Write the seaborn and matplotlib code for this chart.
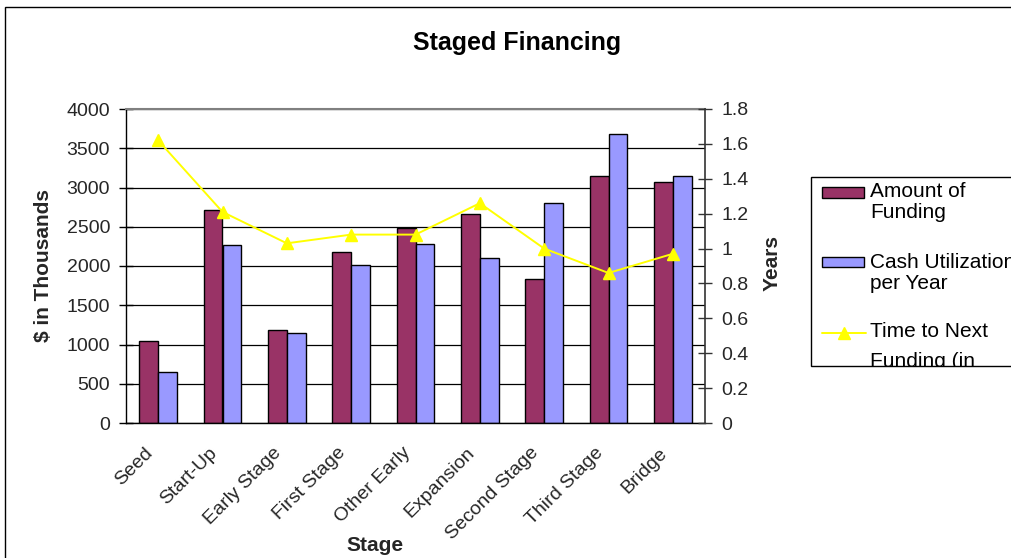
import numpy as np
import pandas as pd
import matplotlib
matplotlib.use("Agg")
import matplotlib.pyplot as plt
from matplotlib.patches import Rectangle
from matplotlib.lines import Line2D
from matplotlib.ticker import FixedLocator, FuncFormatter
import matplotlib.transforms as mtransforms
import seaborn as sns

# ---- data -------------------------------------------------------------
stages = ["Seed", "Start-Up", "Early Stage", "First Stage", "Other Early",
          "Expansion", "Second Stage", "Third Stage", "Bridge"]
amount_of_funding = [1050, 2710, 1190, 2180, 2485, 2665, 1835, 3150, 3070]
cash_utilization = [645, 2265, 1150, 2015, 2280, 2100, 2805, 3680, 3145]
time_to_next_funding = [1.62, 1.21, 1.03, 1.08, 1.08, 1.26, 1.00, 0.86, 0.97]

series_names = ["Amount of Funding", "Cash Utilization per Year"]
left_ticks = [0, 500, 1000, 1500, 2000, 2500, 3000, 3500, 4000]
right_ticks = [0, 0.2, 0.4, 0.6, 0.8, 1.0, 1.2, 1.4, 1.6, 1.8]

MAROON = "#993366"
PERIWINKLE = "#9999FF"
YELLOW = "#FFFF00"

# ---- figure setup -----------------------------------------------------
W, H = 1011, 558
sns.set_theme(style="white")
plt.rcParams["font.family"] = ["Liberation Sans", "DejaVu Sans"]

fig = plt.figure(figsize=(W / 100, H / 100), dpi=100)
fig.patch.set_facecolor("white")


def fx(px):
    return px / W


def fy(py):
    return 1 - py / H


ax = fig.add_axes([fx(126), fy(423), fx(705) - fx(126), fy(109) - fy(423)])
ax.set_facecolor("white")

# ---- bars -------------------------------------------------------------
bars = pd.DataFrame({
    "Stage": stages * 2,
    "Value": amount_of_funding + cash_utilization,
    "Series": [series_names[0]] * len(stages) + [series_names[1]] * len(stages),
})
sns.barplot(data=bars, x="Stage", y="Value", hue="Series", order=stages,
            hue_order=series_names, palette=[MAROON, PERIWINKLE],
            saturation=1, width=0.59, edgecolor="black", linewidth=1.0,
            legend=False, ax=ax)

# ---- line on secondary axis -------------------------------------------
ax2 = ax.twinx()
sns.pointplot(x=stages, y=time_to_next_funding, ax=ax2, color=YELLOW,
              markers="^", markersize=8.5, linewidth=1.4, errorbar=None)

# ---- axes limits, ticks, grid ----------------------------------------
ax.set_xlim(-0.5, len(stages) - 0.5)
ax.set_ylim(0, 4000)
ax2.set_ylim(0, 1.8)

ax.yaxis.set_major_locator(FixedLocator(left_ticks))
ax.yaxis.set_major_formatter(FuncFormatter(lambda v, p: f"{v:g}"))
ax2.yaxis.set_major_locator(FixedLocator(right_ticks))
ax2.yaxis.set_major_formatter(FuncFormatter(lambda v, p: f"{v:g}"))

ax.set_axisbelow(True)
ax.yaxis.grid(True, color="black", linewidth=0.9)
ax.xaxis.grid(False)
ax2.grid(False)

ax.set_xticks(range(len(stages)))
ax.set_xticklabels(stages, rotation=45, ha="right", va="top",
                   rotation_mode="anchor", fontsize=14)
ax.xaxis.set_minor_locator(FixedLocator(np.arange(-0.5, len(stages), 1.0)))
ax.tick_params(axis="x", which="major", length=0, pad=6)
ax.tick_params(axis="x", which="minor", direction="out", length=4.5,
               width=1, color="black")
shift = mtransforms.ScaledTranslation(-14 / 100, -13 / 100, fig.dpi_scale_trans)
for lbl in ax.get_xticklabels():
    lbl.set_transform(lbl.get_transform() + shift)

ax.tick_params(axis="y", direction="inout", length=10, width=1,
               color="black", labelsize=14, pad=6.5, left=True)
ax2.tick_params(axis="y", direction="inout", length=10, width=1,
                color="#333333", labelsize=14, pad=7, right=True)

for name in ["left", "bottom"]:
    ax.spines[name].set_color("black")
    ax.spines[name].set_linewidth(1.0)
ax.spines["top"].set_color("#808080")
ax.spines["top"].set_linewidth(1.5)
ax.spines["right"].set_visible(False)
for name in ["left", "top", "bottom"]:
    ax2.spines[name].set_visible(False)
ax2.spines["right"].set_color("#333333")
ax2.spines["right"].set_linewidth(1.2)

# ---- labels -----------------------------------------------------------
ax.set_xlabel("Stage", fontsize=15, fontweight="bold")
ax.xaxis.set_label_coords((375 - 126) / 579, (423 - 536) / 314)
ax.set_ylabel("$ in Thousands", fontsize=15, fontweight="bold")
ax.yaxis.set_label_coords((53 - 126) / 579, 0.5)
ax2.set_ylabel("Years", fontsize=15, fontweight="bold")
ax2.yaxis.set_label_coords((763 - 126) / 579, 0.51)

fig.text(fx(517), fy(50), "Staged Financing", ha="center", va="baseline",
         fontsize=18, fontweight="bold", color="black")

# ---- outer chart border -----------------------------------------------
fig.add_artist(Rectangle((fx(4.5), fy(600)), fx(1100), fy(6.5) - fy(600),
                         transform=fig.transFigure, fill=False,
                         edgecolor="black", linewidth=1.0))

# ---- legend box --------------------------------------------------------
box_left, box_top, box_bottom, box_right = 811, 177, 366, 1040
legend_box = Rectangle((fx(box_left), fy(box_bottom)),
                       fx(box_right) - fx(box_left), fy(box_top) - fy(box_bottom),
                       transform=fig.transFigure, fill=True, facecolor="white",
                       edgecolor="black", linewidth=1.0, zorder=5)
fig.add_artist(legend_box)
clip_rect = Rectangle((fx(box_left), fy(box_bottom)),
                      fx(box_right) - fx(box_left), fy(box_top) - fy(box_bottom),
                      transform=fig.transFigure)

key_left, key_right = 822, 864
fig.add_artist(Rectangle((fx(key_left), fy(198)), fx(key_right) - fx(key_left),
                         fy(187) - fy(198), transform=fig.transFigure,
                         facecolor=MAROON, edgecolor="black", linewidth=1.0, zorder=6))
fig.add_artist(Rectangle((fx(key_left), fy(267)), fx(key_right) - fx(key_left),
                         fy(257) - fy(267), transform=fig.transFigure,
                         facecolor=PERIWINKLE, edgecolor="black", linewidth=1.0, zorder=6))
fig.add_artist(Line2D([fx(key_left), fx(866)], [fy(332.5), fy(332.5)],
                      transform=fig.transFigure, color=YELLOW, linewidth=1.4, zorder=6))
fig.add_artist(Line2D([fx(843.7)], [fy(332.5)], transform=fig.transFigure,
                      marker="^", markersize=8.5, color=YELLOW, linestyle="none", zorder=7))

legend_lines = [
    ("Amount of", 196.7), ("Funding", 217.5),
    ("Cash Utilization", 268.3), ("per Year", 289.0),
    ("Time to Next", 336.7), ("Funding (in", 366.8),
]
for text, baseline in legend_lines:
    t = fig.text(fx(870), fy(baseline), text, ha="left", va="baseline",
                 fontsize=15, color="black", zorder=7)
    t.set_clip_path(clip_rect)
    t.set_clip_on(True)

fig.savefig("out.png", dpi=100, facecolor="white")
